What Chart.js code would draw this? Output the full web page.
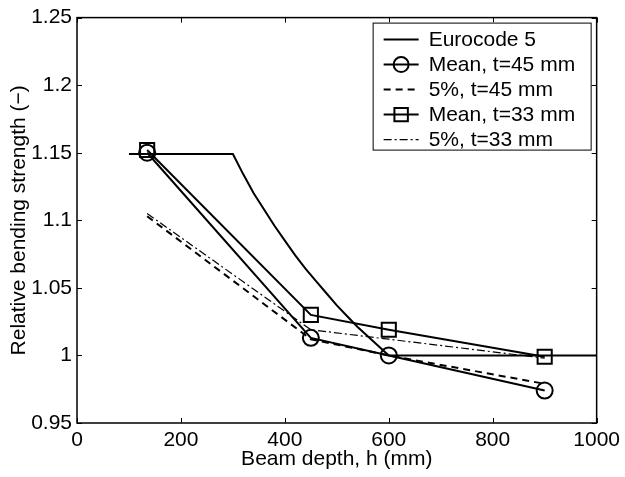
<!DOCTYPE html>
<html>
<head>
<meta charset="utf-8">
<script src="https://cdn.jsdelivr.net/npm/chart.js@4/dist/chart.umd.min.js"></script>
<style>
  html, body { margin: 0; padding: 0; background: #fff; }
</style>
</head>
<body>
<canvas id="chart" width="625" height="477"></canvas>
<script>
// tested beam depths (mm)
const depth = [135, 450, 600, 900];
// relative bending strength
const mean45 = [1.150, 1.013, 1.000, 0.974];
const p5_45 = [1.103, 1.012, 1.000, 0.979];
const mean33 = [1.152, 1.030, 1.019, 0.999];
const p5_33 = [1.105, 1.019, 1.012, 0.998];
// Eurocode 5 size factor curve
const euroDepth = [100, 300, 320, 340, 360, 380, 400, 420, 440, 460, 480, 500, 520, 540, 560, 580, 600, 1000];
const euroValue = [1.149, 1.149, 1.134, 1.120, 1.108, 1.096, 1.085, 1.074, 1.064, 1.055, 1.046, 1.037, 1.029, 1.021, 1.014, 1.007, 1.000, 1.000];

const xTickLabels = ['0', '200', '400', '600', '800', '1000'];
const yTickLabels = ['0.95', '1', '1.05', '1.1', '1.15', '1.2', '1.25'];

const FONT = "'Liberation Sans', Arial, Helvetica, sans-serif";
Chart.defaults.font.family = FONT;
Chart.defaults.font.size = 21;
Chart.defaults.color = '#000';

const toXY = (xs, ys) => xs.map((x, i) => ({ x, y: ys[i] }));

// box around the axes with inward ticks, matlab style
const frame = {
  id: 'frame',
  afterDatasetsDraw(chart) {
    const { ctx, chartArea: a, scales: { x, y } } = chart;
    ctx.save();
    ctx.strokeStyle = '#000';
    ctx.lineWidth = 1.5;
    ctx.strokeRect(a.left, a.top, a.right - a.left, a.bottom - a.top);
    ctx.lineWidth = 1;
    ctx.beginPath();
    x.ticks.forEach(t => {
      const px = Math.round(x.getPixelForValue(t.value)) + 0.5;
      ctx.moveTo(px, a.bottom); ctx.lineTo(px, a.bottom - 5);
      ctx.moveTo(px, a.top); ctx.lineTo(px, a.top + 5);
    });
    y.ticks.forEach(t => {
      const py = Math.round(y.getPixelForValue(t.value)) + 0.5;
      ctx.moveTo(a.left, py); ctx.lineTo(a.left + 5, py);
      ctx.moveTo(a.right, py); ctx.lineTo(a.right - 5, py);
    });
    ctx.stroke();
    ctx.restore();
  }
};

// legend box in the upper right corner
const boxLegend = {
  id: 'boxLegend',
  afterDraw(chart) {
    const { ctx, chartArea: a } = chart;
    const sets = chart.data.datasets;
    const w = 218, h = 127;
    const left = a.right - 6 - w, top = a.top + 5;
    ctx.save();
    ctx.fillStyle = '#fff';
    ctx.fillRect(left, top, w, h);
    ctx.strokeStyle = '#000';
    ctx.lineWidth = 1;
    ctx.strokeRect(left + 0.5, top + 0.5, w, h);
    sets.forEach((ds, i) => {
      const cy = top + 17 + i * 25;
      ctx.save();
      ctx.strokeStyle = ds.borderColor;
      ctx.lineWidth = ds.borderWidth;
      ctx.setLineDash(ds.borderDash || []);
      ctx.beginPath();
      ctx.moveTo(left + 11, cy);
      ctx.lineTo(left + 46, cy);
      ctx.stroke();
      ctx.restore();
      if (ds.pointRadius > 0) {
        ctx.save();
        ctx.lineWidth = ds.pointBorderWidth;
        ctx.strokeStyle = ds.borderColor;
        ctx.fillStyle = 'rgba(0,0,0,0)';
        Chart.helpers.drawPoint(ctx, {
          pointStyle: ds.pointStyle,
          radius: ds.pointStyle === 'rect' ? 9.5 : 7.5,
          borderWidth: ds.pointBorderWidth,
          rotation: 0
        }, left + 28.5, cy);
        ctx.restore();
      }
      ctx.fillStyle = '#000';
      ctx.font = '21px ' + FONT;
      ctx.textBaseline = 'middle';
      ctx.textAlign = 'left';
      ctx.fillText(ds.label, left + 56, cy + 1);
    });
    ctx.restore();
  }
};

new Chart(document.getElementById('chart'), {
  type: 'line',
  data: {
    datasets: [
      {
        label: 'Eurocode 5',
        data: toXY(euroDepth, euroValue),
        borderColor: '#000', borderWidth: 2, pointRadius: 0, tension: 0
      },
      {
        label: 'Mean, t=45 mm',
        data: toXY(depth, mean45),
        borderColor: '#000', borderWidth: 2, pointStyle: 'circle', pointRadius: 8,
        pointBorderWidth: 2, pointBackgroundColor: 'rgba(0,0,0,0)', pointBorderColor: '#000'
      },
      {
        label: '5%, t=45 mm',
        data: toXY(depth, p5_45),
        borderColor: '#000', borderWidth: 2, borderDash: [7, 5], pointRadius: 0
      },
      {
        label: 'Mean, t=33 mm',
        data: toXY(depth, mean33),
        borderColor: '#000', borderWidth: 2, pointStyle: 'rect', pointRadius: 10,
        pointBorderWidth: 2, pointBackgroundColor: 'rgba(0,0,0,0)', pointBorderColor: '#000'
      },
      {
        label: '5%, t=33 mm',
        data: toXY(depth, p5_33),
        borderColor: '#000', borderWidth: 1.2, borderDash: [8, 3, 2, 3], pointRadius: 0
      }
    ]
  },
  options: {
    responsive: false,
    animation: false,
    devicePixelRatio: 1,
    layout: { padding: { top: 10, right: 24, left: 0, bottom: 0 } },
    plugins: { legend: { display: false }, tooltip: { enabled: false } },
    scales: {
      x: {
        type: 'linear', min: 0, max: 1000,
        grid: { display: false, drawTicks: false },
        border: { display: false },
        ticks: {
          stepSize: 200, padding: 5, maxRotation: 0,
          callback: (v, i) => xTickLabels[i]
        },
        title: { display: true, text: 'Beam depth, h (mm)', padding: { top: 0, bottom: 5 } },
        afterFit: s => { s.height = 54; }
      },
      y: {
        type: 'linear', min: 0.95, max: 1.25,
        grid: { display: false, drawTicks: false },
        border: { display: false },
        ticks: {
          stepSize: 0.05, padding: 5,
          callback: (v, i) => yTickLabels[i]
        },
        title: { display: true, text: 'Relative bending strength (\u2212)', padding: { top: 7, bottom: 0 } },
        afterFit: s => { s.width = 77; }
      }
    }
  },
  plugins: [frame, boxLegend]
});
</script>
</body>
</html>
